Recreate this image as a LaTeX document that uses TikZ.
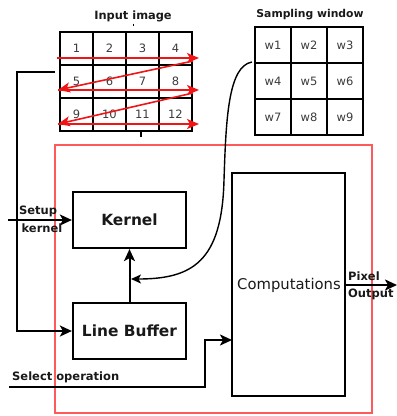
\documentclass[tikz,border=0pt]{standalone}
\usepackage{fontspec}
\setmainfont{DejaVu Sans}
\usetikzlibrary{arrows.meta}
\definecolor{frame}{RGB}{255,90,90}
\definecolor{scan}{RGB}{240,20,20}
\definecolor{ink}{RGB}{25,25,25}
\tikzset{
  block/.style={draw=black,line width=2.2pt,inner sep=0pt,text=ink},
  cell/.style={draw=black,line width=1.5pt,minimum width=33pt,minimum height=33pt,inner sep=0pt,
    font=\fontsize{11.5}{13}\selectfont,text=ink!85},
  wcell/.style={draw=black,line width=1.5pt,minimum width=36pt,minimum height=36pt,inner sep=0pt,
    font=\fontsize{11.5}{13}\selectfont,text=ink!85},
  wire/.style={draw=black,line width=2pt},
  arr/.style={wire,-{Stealth[length=12pt,width=11pt,inset=3pt]}},
  scanarr/.style={draw=scan,line width=1.6pt,-{Stealth[length=12pt,width=10pt,inset=3pt]}},
  title/.style={font=\bfseries\fontsize{11.4}{13}\selectfont,text=ink,inner sep=0pt},
  lbl/.style={font=\bfseries\fontsize{11.5}{13}\selectfont,text=ink,inner sep=0pt},
}
\begin{document}
\begin{tikzpicture}[x=1pt,y=-1pt]
\useasboundingbox (0,0) rectangle (397,416);
% outer red frame
\draw[frame,line width=1.3pt] (55,145) rectangle (372,413);

% input image grid
\node[title] (intitle) at (133,16) {Input image};
\foreach \r in {0,1,2}{
  \foreach \c in {1,2,3,4}{
    \pgfmathtruncatemacro{\n}{\r*4+\c}
    \node[cell] (p\n) at ({60+16.5+33*(\c-1)},{32+16.5+33*\r}) {\n};
  }
}
\draw[black,line width=0.9pt] (133,23.5) -- (133,25.5);
\draw[black,line width=1.3pt] (141,132) -- (141,137);

% raster scan order
\coordinate (s1a) at (57,58);  \coordinate (s1b) at (199,58);
\coordinate (s2a) at (58,90);  \coordinate (s2b) at (199,90);
\coordinate (s3a) at (58,124); \coordinate (s3b) at (199,124);
\coordinate (d1) at (193,61);  \coordinate (d2) at (193,93);
\draw[scanarr] (s1a) -- (s1b);
\draw[scanarr] (d1) -- (s2a);
\draw[scanarr] (s2a) -- (s2b);
\draw[scanarr] (d2) -- (s3a);
\draw[scanarr] (s3a) -- (s3b);

% sampling window
\node[title,font=\bfseries\fontsize{10.8}{13}\selectfont] (wtitle) at (310,15) {Sampling window};
\foreach \r in {0,1,2}{
  \foreach \c in {1,2,3}{
    \pgfmathtruncatemacro{\n}{\r*3+\c}
    \node[wcell] (w\n) at ({255+18+36*(\c-1)},{27+18+36*\r}) {w\n};
  }
}

% processing blocks
\node[block,minimum width=113pt,minimum height=56pt,font=\bfseries\fontsize{15.4}{18}\selectfont] (kernel) at (129.5,220) {Kernel};
\node[block,minimum width=113pt,minimum height=56pt,font=\bfseries\fontsize{15.4}{18}\selectfont] (lbuf) at (129.5,331) {Line Buffer};
\node[block,minimum width=113pt,minimum height=223pt] (comp) at (288.5,284.5) {};
\node[font=\fontsize{14.8}{17}\selectfont,text=ink,inner sep=0pt] (comptxt) at (289,285) {Computations};

% input pixels into the line buffer
\coordinate (inL) at (55,72);
\coordinate (inC) at (17,72);
\coordinate (inD) at (17,331);
\draw[arr] (inL) -- (inC) -- (inD) -- (lbuf.west);

% line buffer feeds the kernel
\draw[arr] (lbuf.north) -- (kernel.south);

% window read out from the line buffer
\coordinate (wstart) at (252,62);
\coordinate (wend) at (131,279);
\draw[draw=black,line width=1.4pt,-{Stealth[length=10pt,width=9pt,inset=2.5pt]}]
  (wstart) .. controls (228,66) and (226,120) .. (224,180)
  .. controls (222,262) and (192,279) .. (wend);

% kernel setup
\coordinate (setin) at (8,220);
\draw[arr] (setin) -- (kernel.west);
\node[lbl] (setup) at (38,211) {Setup};
\node[lbl] (kern) at (42,228) {kernel};

% operation select
\coordinate (selin) at (9,387);
\coordinate (selA) at (205,387);
\coordinate (selB) at (205,340);
\coordinate (selC) at (232,340);
\draw[arr] (selin) -- (selA) -- (selB) -- (selC);
\node[lbl,anchor=west] (seltxt) at (12,377) {Select operation};

% result
\coordinate (pixout) at (397,285);
\draw[arr] (comp.east |- comptxt) -- (pixout);
\node[lbl,anchor=west] (pix) at (348,276) {Pixel};
\node[lbl,anchor=west] (outp) at (348,294) {Output};
\end{tikzpicture}
\end{document}
